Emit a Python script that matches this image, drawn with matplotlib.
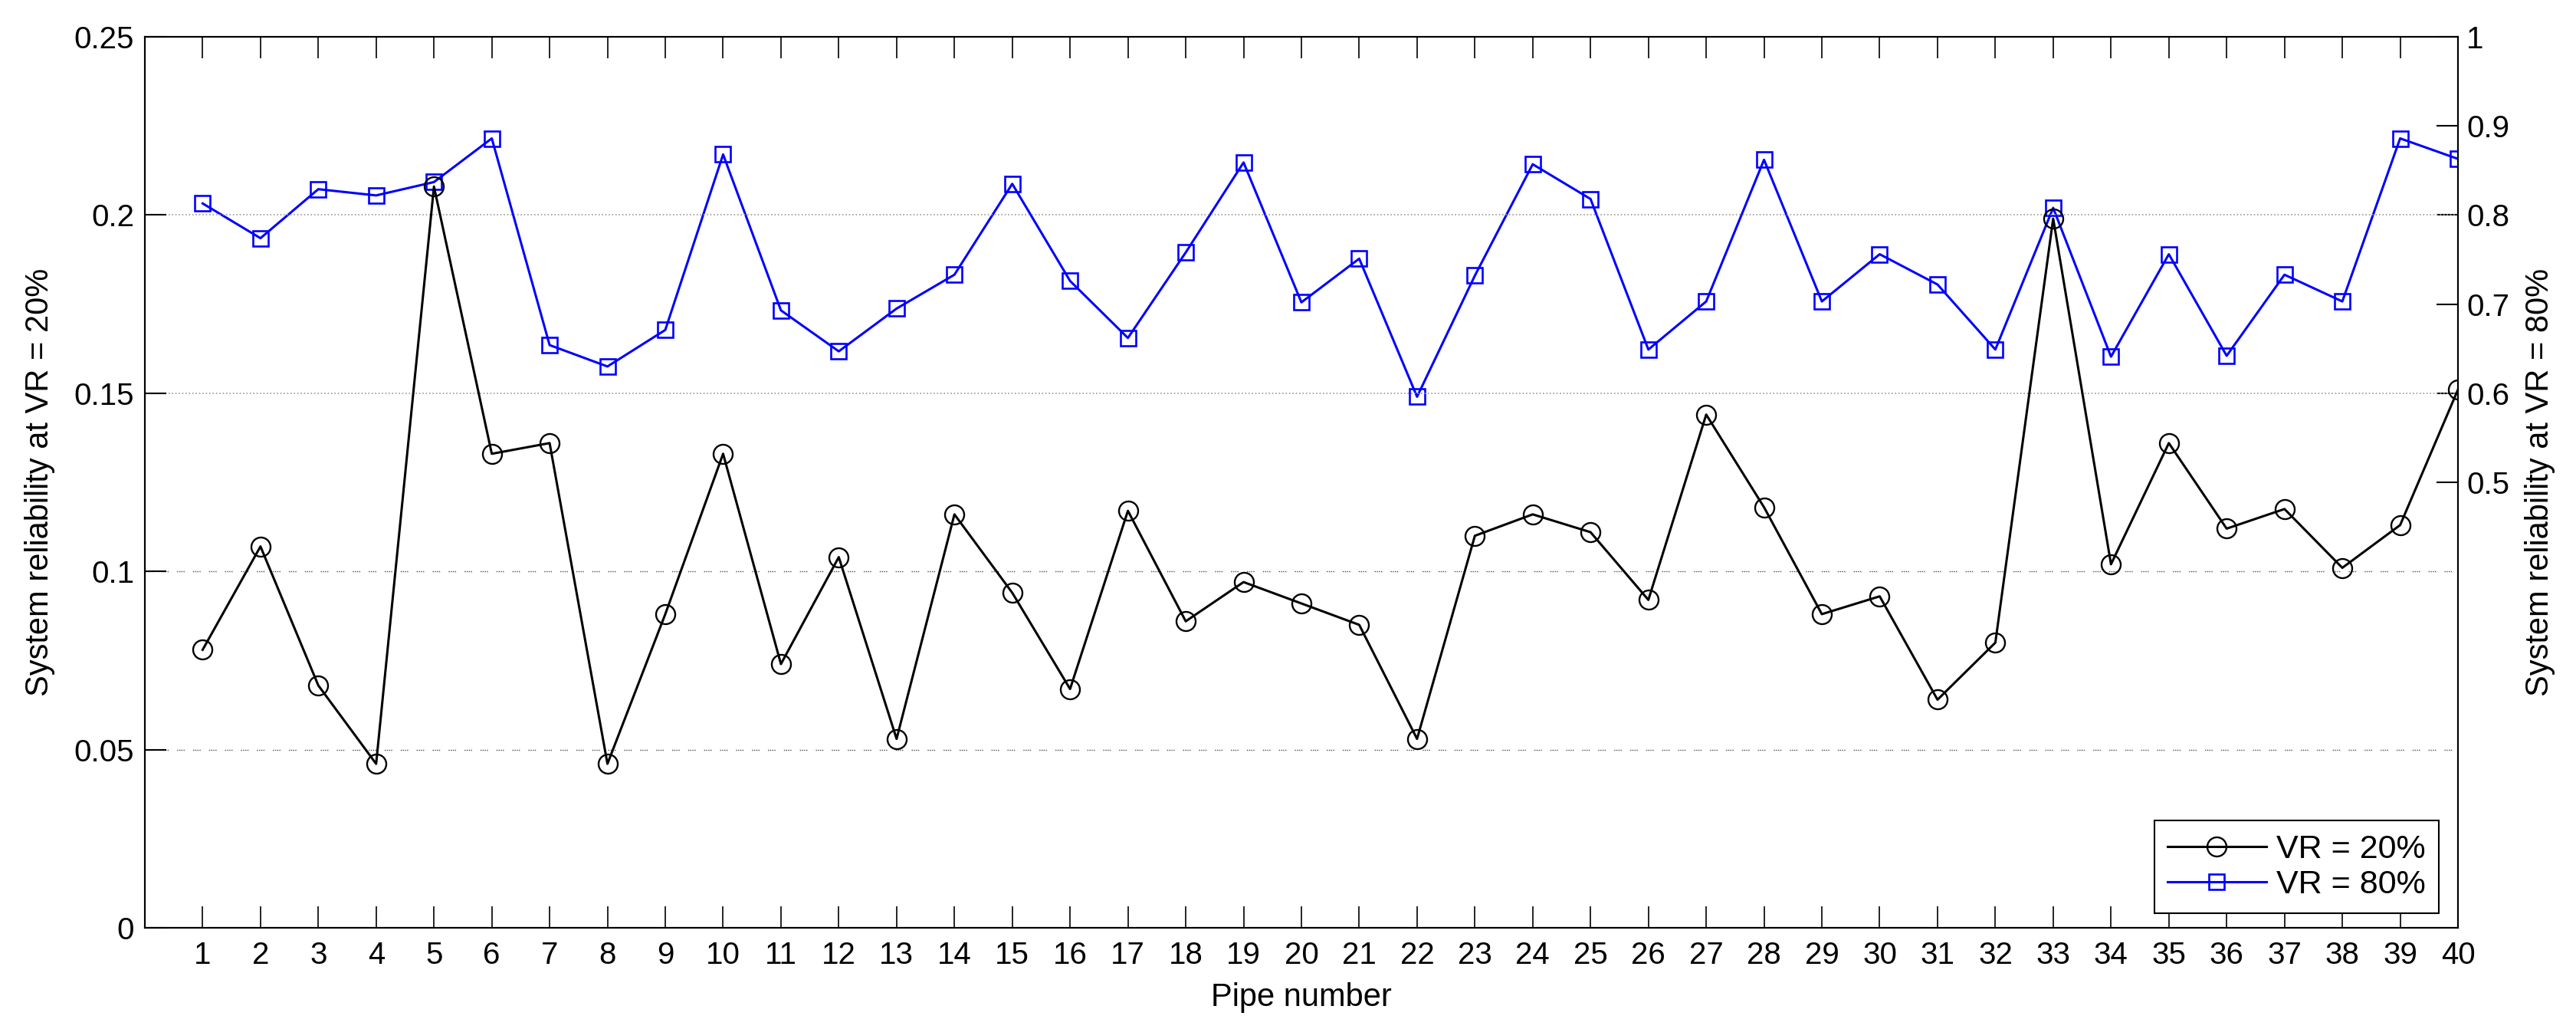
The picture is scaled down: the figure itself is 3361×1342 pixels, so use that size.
import matplotlib
matplotlib.use("Agg")
import matplotlib.pyplot as plt

plt.rcParams['font.family'] = ['Liberation Sans', 'DejaVu Sans']

# Dados
pipes = list(range(1, 41))
vr20 = [0.078, 0.107, 0.068, 0.046, 0.208, 0.133, 0.136, 0.046, 0.088, 0.133,
        0.074, 0.104, 0.053, 0.116, 0.094, 0.067, 0.117, 0.086, 0.097, 0.091,
        0.085, 0.053, 0.110, 0.116, 0.111, 0.092, 0.144, 0.118, 0.088, 0.093,
        0.064, 0.080, 0.199, 0.102, 0.136, 0.112, 0.1175, 0.101, 0.113, 0.151]
vr80 = [0.813, 0.774, 0.829, 0.822, 0.837, 0.886, 0.654, 0.630, 0.671, 0.868,
        0.693, 0.647, 0.695, 0.733, 0.835, 0.726, 0.662, 0.758, 0.859, 0.702,
        0.751, 0.596, 0.732, 0.857, 0.818, 0.649, 0.703, 0.862, 0.703, 0.756,
        0.722, 0.649, 0.808, 0.641, 0.756, 0.642, 0.733, 0.703, 0.886, 0.863]

left_ticks = [0, 0.05, 0.1, 0.15, 0.2, 0.25]
left_labels = ["0", "0.05", "0.1", "0.15", "0.2", "0.25"]
right_ticks = [0.5, 0.6, 0.7, 0.8, 0.9, 1.0]
right_labels = ["0.5", "0.6", "0.7", "0.8", "0.9", "1"]

fig = plt.figure(figsize=(33.62, 13.42), dpi=100)
ax = fig.add_axes([0.0562, 0.0984, 0.8977, 0.8658])
ax2 = ax.twinx()

l1, = ax.plot(pipes, vr20, color='black', lw=2.2, marker='o', markersize=18,
              markerfacecolor='none', markeredgewidth=1.7, label='VR = 20%')
l2, = ax2.plot(pipes, vr80, color='#0000ff', lw=2.2, marker='s', markersize=15,
               markerfacecolor='none', markeredgewidth=1.9, label='VR = 80%')

ax.set_xlim(0, 40)
ax.set_ylim(0, 0.25)
ax2.set_ylim(0, 1)
ax.set_xticks(pipes)
ax.set_yticks(left_ticks)
ax.set_yticklabels(left_labels)
ax2.set_yticks(right_ticks)
ax2.set_yticklabels(right_labels)

ax.tick_params(axis='x', direction='in', top=True, length=20, width=1.2,
               labelsize=29, pad=12)
ax.tick_params(axis='y', direction='in', length=20, width=1.5,
               labelsize=29, pad=10)
ax2.tick_params(axis='y', direction='in', length=20, width=1.5,
                labelsize=29, pad=8)

# grade horizontal pontilhada
ax.grid(axis='y', linestyle=':', color='0.6', lw=1.2)
for valor, linha in zip(left_ticks, ax.get_ygridlines()):
    if valor in (0.05, 0.1):
        linha.set_color('0.3')
        linha.set_linestyle((0, (1, 1, 1, 1, 1, 1, 1, 8)))
        linha.set_linewidth(1.0)

for a in (ax, ax2):
    for s in a.spines.values():
        s.set_linewidth(1.5)

ax.set_xlabel("Pipe number", fontsize=30, labelpad=12)
ax.set_ylabel("System reliability at VR = 20%", fontsize=30, labelpad=18)
ax2.set_ylabel("System reliability at VR = 80%", fontsize=30, labelpad=14)

leg = ax.legend(handles=[l1, l2], loc='lower right', bbox_to_anchor=(0.9917, 0.016),
                borderaxespad=0, fontsize=31, handlelength=3.0, handletextpad=0.3,
                labelspacing=0.15, borderpad=0.4, fancybox=False,
                framealpha=1, edgecolor='black')
leg.get_frame().set_linewidth(1.5)
ax.set_zorder(ax2.get_zorder() + 1)
ax.patch.set_visible(False)

fig.savefig("out.png", dpi=100)
